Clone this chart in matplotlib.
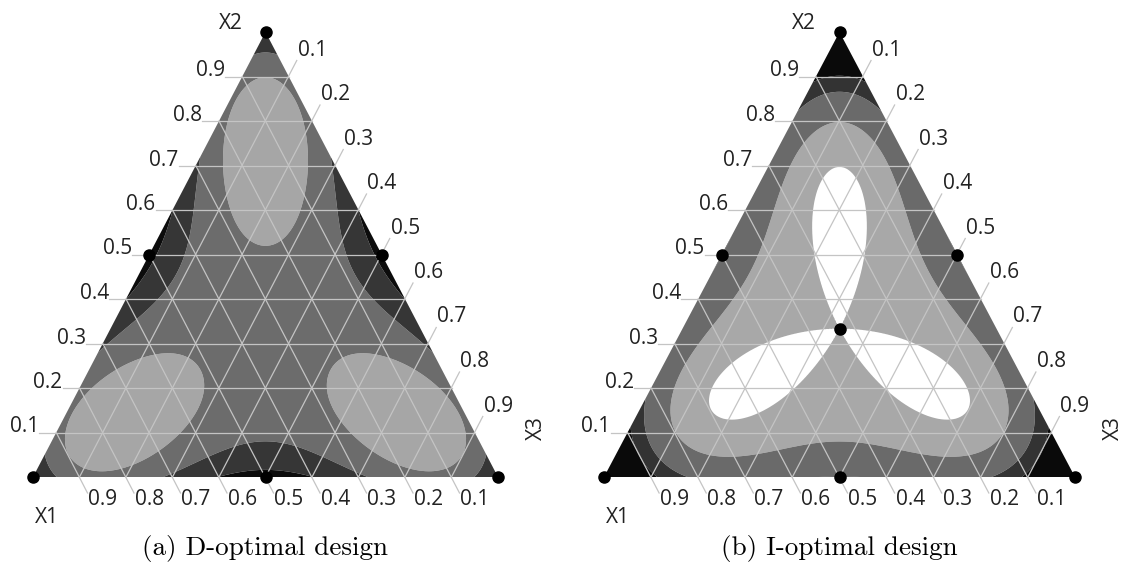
import numpy as np
import matplotlib
matplotlib.use("Agg")
import matplotlib.pyplot as plt
import matplotlib.tri as mtri

# Design points (x1, x2, x3): three vertices, three edge midpoints, centroid
design_points = np.array([
    [1.0, 0.0, 0.0], [0.0, 1.0, 0.0], [0.0, 0.0, 1.0],
    [0.5, 0.5, 0.0], [0.5, 0.0, 0.5], [0.0, 0.5, 0.5],
    [1 / 3, 1 / 3, 1 / 3],
])
# Number of runs at each design point
d_runs = np.array([1, 1, 1, 1, 1, 1, 0])
i_runs = np.array([1, 1, 1, 2, 2, 2, 1])

# Contour breaks of the scaled prediction variance and the fill greys
d_levels = [3.50, 4.60, 5.64]
d_colors = ["#a6a6a6", "#6c6c6c", "#363636", "#0c0c0c"]
i_levels = [2.50, 3.33, 4.60, 5.60]
i_colors = ["#ffffff", "#a8a8a8", "#6a6a6a", "#333333", "#0a0a0a"]

tick_values = [0.1, 0.2, 0.3, 0.4, 0.5, 0.6, 0.7, 0.8, 0.9]
captions = ["(a) D-optimal design", "(b) I-optimal design"]


def model_terms(x):
    x1, x2, x3 = x[:, 0], x[:, 1], x[:, 2]
    return np.column_stack([x1, x2, x3, x1 * x2, x1 * x3, x2 * x3])


def scaled_variance(runs, x):
    keep = runs > 0
    F = model_terms(design_points[keep])
    n = runs[keep]
    M = (F * n[:, None]).T @ F
    Minv = np.linalg.inv(M)
    f = model_terms(x)
    return n.sum() * np.einsum("ij,jk,ik->i", f, Minv, f)


def to_xy(b):
    return b[:, 2] + 0.5 * b[:, 1], b[:, 1]


# fine barycentric grid over the simplex
n = 160
pts = []
for i in range(n + 1):
    for j in range(n + 1 - i):
        pts.append([i / n, j / n, (n - i - j) / n])
grid = np.array(pts)
gx, gy = to_xy(grid)
triang = mtri.Triangulation(gx, gy)

fig = plt.figure(figsize=(11.26, 5.82), dpi=100)
W, H = 1126, 582
panels = [
    (33, 465, d_runs, d_levels, d_colors),
    (604, 471, i_runs, i_levels, i_colors),
]
grid_color = "#c4c4c4"
tick_font = dict(family="Open Sans", fontsize=15, color="#222222")

for k, (x0, w, runs, levels, colors) in enumerate(panels):
    ax = fig.add_axes([x0 / W, (582 - 477) / H, w / W, 445 / H])
    ax.set_xlim(0, 1)
    ax.set_ylim(0, 1)
    ax.axis("off")

    z = scaled_variance(runs, grid)
    bounds = [z.min() - 1] + list(levels) + [z.max() + 1]
    ax.tricontourf(triang, z, levels=bounds, colors=colors, antialiased=True)

    ex = 17 / w            # horizontal tick length
    sx, sy = 8 / w, 16 / 445  # slanted tick step
    for v in tick_values:
        # x2 = v : horizontal lines, labels on the left
        ax.plot([v / 2 - ex, 1 - v / 2], [v, v], color=grid_color, lw=0.9,
                clip_on=False, zorder=3)
        ax.text(v / 2 - ex, v, f"{v:.1f}", ha="right", va="baseline", **tick_font)
        # x3 = v : lines parallel to the left side, labels on the right
        xa, ya = v, 0.0
        xb, yb = (1 + v) / 2, 1 - v
        ax.plot([xa, xb + sx], [ya, yb + sy], color=grid_color, lw=0.9,
                clip_on=False, zorder=3)
        ax.text(xb + sx + 0.002, yb + sy, f"{v:.1f}", ha="left", va="bottom", **tick_font)
        # x1 = v : lines parallel to the right side, labels below
        xa, ya = 0.5 * (1 - v), 1 - v
        xb, yb = 1 - v, 0.0
        ax.plot([xa, xb + sx], [ya, yb - sy], color=grid_color, lw=0.9,
                clip_on=False, zorder=3)
        ax.text(xb + sx + 0.002, yb - sy + 0.008, f"{v:.1f}", ha="left", va="top", **tick_font)

    shown = design_points[runs > 0]
    px, py = to_xy(shown)
    ax.plot(px, py, "o", color="black", ms=8, clip_on=False, zorder=5)

    ax.text(0.425, 1.02, "X2", ha="center", va="center", **tick_font)
    ax.text(0.03, -0.092, "X1", ha="center", va="center", **tick_font)
    ax.text(1.082, 0.11, "X3", ha="center", va="center", rotation=90, **tick_font)

    fig.text((x0 + w / 2) / W, 1 - 549 / H, captions[k], ha="center", va="center",
             family="cmr10", fontsize=19.5)

fig.savefig("out.png", dpi=100, facecolor="white")
